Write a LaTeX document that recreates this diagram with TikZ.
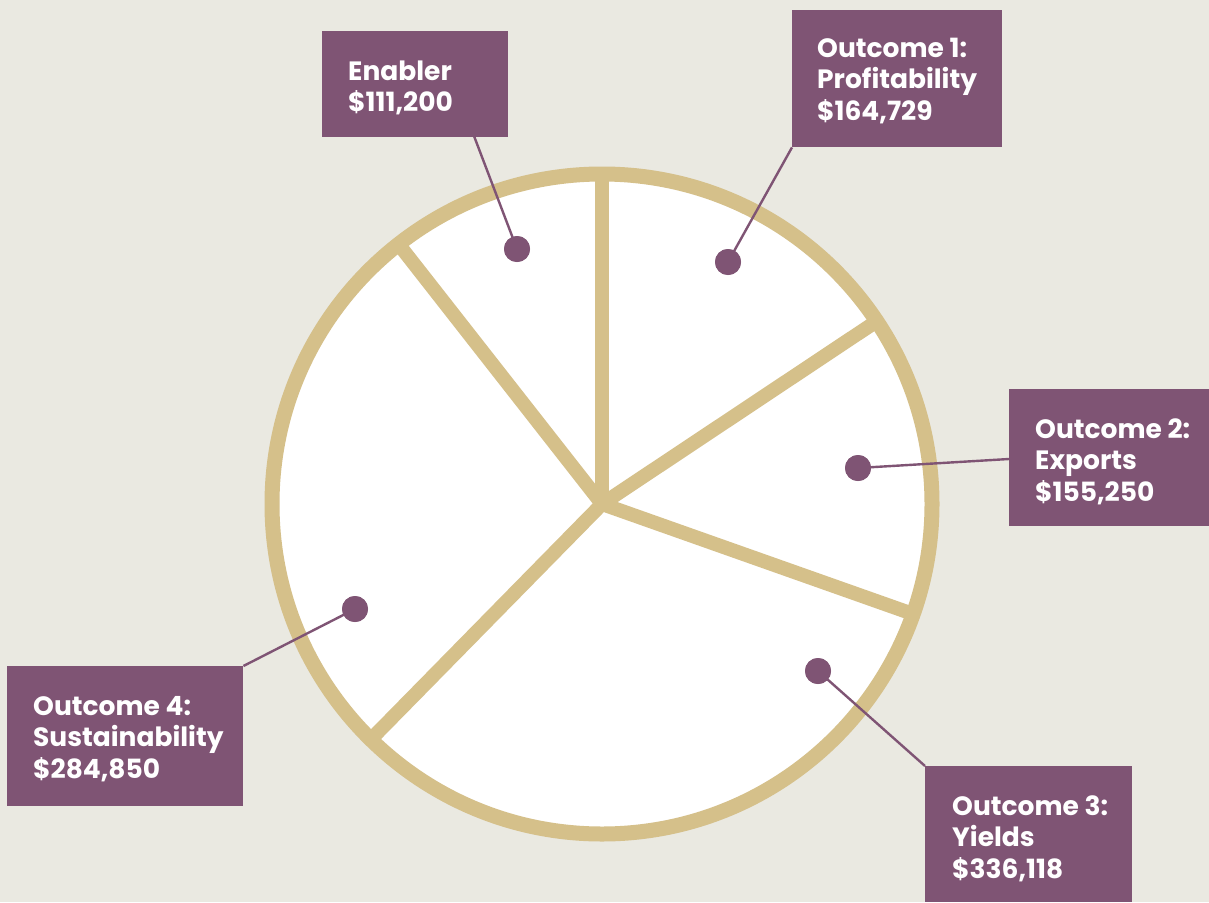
\documentclass[tikz,border=0pt]{standalone}
\usepackage{fontspec}
\newfontfamily\lblfont{Poppins}
\definecolor{bgc}{HTML}{EAE9E1}
\definecolor{gold}{HTML}{D5C08A}
\definecolor{plum}{HTML}{7F5474}
\tikzset{
  boxst/.style={anchor=north west, inner sep=0pt, fill=plum, draw=none},
  lbl/.style={anchor=north west, inner sep=0pt, align=left, text=white,
    font=\lblfont\bfseries\fontsize{26.5}{31.5}\selectfont},
  dotst/.style={circle, fill=plum, inner sep=0pt, minimum size=26pt},
  lead/.style={draw=plum, line width=2.4pt},
  spoke/.style={draw=gold, line width=14pt, line cap=round},
  ring/.style={draw=gold, line width=15pt, fill=white}
}
\begin{document}
\begin{tikzpicture}[x=1pt,y=-1pt]
\fill[bgc] (0,0) rectangle (1209,902);
\useasboundingbox (0,0) rectangle (1209,902);
% pie
\coordinate (c) at (602,504);
\fill[white] (c) circle (330pt);
\draw[spoke] (c) -- ++(90:330pt);
\draw[spoke] (c) -- ++(33.64:330pt);
\draw[spoke] (c) -- ++(-19.48:330pt);
\draw[spoke] (c) -- ++(-134.48:330pt);
\draw[spoke] (c) -- ++(128.06:330pt);
\draw[ring, fill=none] (c) circle (330pt);
% boxes
\node[boxst, minimum width=186pt, minimum height=106pt] (eb) at (322,31) {};
\node[boxst, minimum width=210pt, minimum height=137pt] (b1) at (792,10) {};
\node[boxst, minimum width=200pt, minimum height=137pt] (b2) at (1009,389) {};
\node[boxst, minimum width=207pt, minimum height=136pt] (b3) at (925,766) {};
\node[boxst, minimum width=236pt, minimum height=140pt] (b4) at (7,666) {};
% dots
\node[dotst] (d0) at (517,249) {};
\node[dotst] (d1) at (728,262) {};
\node[dotst] (d2) at (858,468) {};
\node[dotst] (d3) at (818,671) {};
\node[dotst] (d4) at (355,609) {};
\coordinate (e0) at (474,136);
\coordinate (e2) at (1009,459);
% leader lines
\draw[lead] (d0.center) -- (e0);
\draw[lead] (d1.center) -- (b1.south west);
\draw[lead] (d2.center) -- (e2);
\draw[lead] (d3.center) -- (b3.north west);
\draw[lead] (d4.center) -- (b4.north east);
\node[dotst] at (d0) {};
\node[dotst] at (d1) {};
\node[dotst] at (d2) {};
\node[dotst] at (d3) {};
\node[dotst] at (d4) {};
% labels
\node[lbl] (t0) at (348,58) {\strut Enabler\\\$111,200};
\node[lbl] (t1) at (817,35) {\strut Outcome 1:\\Profitability\\\$164,729};
\node[lbl] (t2) at (1035,416) {\strut Outcome 2:\\Exports\\\$155,250};
\node[lbl] (t3) at (952,793) {\strut Outcome 3:\\Yields\\\$336,118};
\node[lbl] (t4) at (33,693) {\strut Outcome 4:\\Sustainability\\\$284,850};
\end{tikzpicture}
\end{document}
